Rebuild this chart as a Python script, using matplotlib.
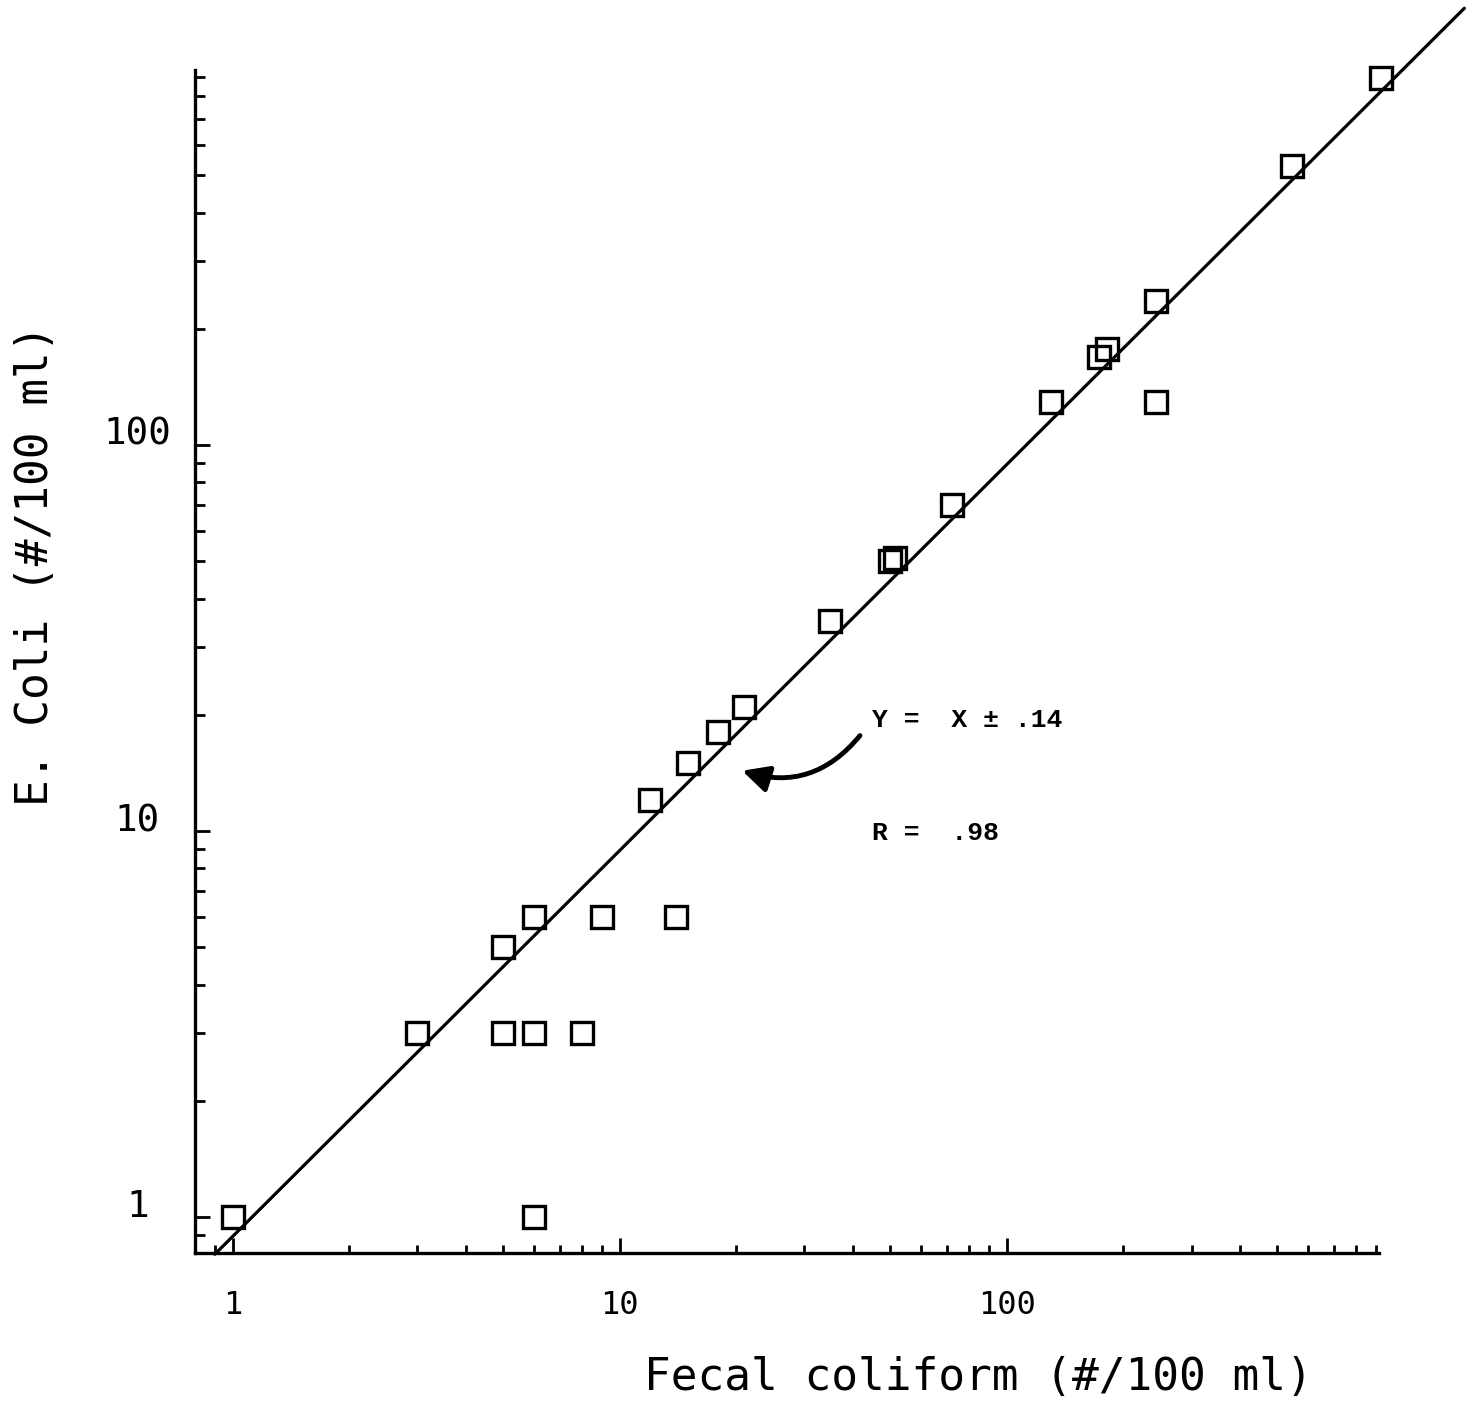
import matplotlib
matplotlib.use("Agg")
import matplotlib.pyplot as plt
import numpy as np
from matplotlib.ticker import LogLocator, NullFormatter, FixedFormatter, FixedLocator
from matplotlib.patches import FancyArrowPatch

# Paired counts per sample (#/100 ml)
fecal_coliform = [1, 6, 3, 5, 6, 8, 5, 6, 9, 14, 12, 15, 18, 21, 35,
                  50, 51.5, 72, 130, 173, 181, 243, 243, 545, 926]
e_coli = [1, 1, 3, 3, 3, 3, 5, 6, 6, 6, 12, 15, 18, 21, 35,
          50, 51, 70, 129, 169, 177, 236, 129, 528, 893]

# Regression line Y = b * X drawn across the plot
fit_slope = 0.89
fit_x = np.array([0.9, 1520.0])
fit_y = fit_slope * fit_x

major_ticks = [1, 10, 100]
major_labels = ["1", "10", "100"]

MONO = "DejaVu Sans Mono"
TYPE = "Liberation Mono"

fig = plt.figure(figsize=(14.76, 14.11), dpi=100)
W, H = 1476, 1411
left, right, bottom, top = 195, 1379, 1253, 70
ax = fig.add_axes([left / W, 1 - bottom / H, (right - left) / W, (bottom - top) / H])

ax.set_xscale("log")
ax.set_yscale("log")
ax.set_xlim(0.8, 915)
ax.set_ylim(0.807, 936)

ax.plot(fit_x, fit_y, color="black", lw=2.3, clip_on=False, zorder=2,
        solid_capstyle="round")
ax.plot(fecal_coliform, e_coli, linestyle="none", marker="s", markersize=16,
        markerfacecolor="none", markeredgecolor="black", markeredgewidth=2.4,
        clip_on=False, zorder=3)

for side in ("top", "right"):
    ax.spines[side].set_visible(False)
for side in ("left", "bottom"):
    ax.spines[side].set_linewidth(2.4)

for axis in (ax.xaxis, ax.yaxis):
    axis.set_major_locator(FixedLocator(major_ticks))
    axis.set_major_formatter(FixedFormatter(major_labels))
    axis.set_minor_locator(LogLocator(base=10, subs=np.arange(2, 10) / 1.0, numticks=20))
    axis.set_minor_formatter(NullFormatter())

ax.tick_params(axis="x", which="major", direction="in", length=11, width=2,
               pad=26.5, labelsize=23)
ax.tick_params(axis="x", which="minor", direction="in", length=6, width=2)
ax.tick_params(axis="y", which="major", direction="in", length=11, width=2,
               pad=41.5, labelsize=27)
ax.tick_params(axis="y", which="minor", direction="in", length=7.5, width=2)

for lab in ax.get_xticklabels():
    lab.set_fontfamily(MONO)
for lab in ax.get_yticklabels():
    lab.set_fontfamily(MONO)
    lab.set_horizontalalignment("center")
    lab.set_verticalalignment("baseline")

ax.set_xlabel("Fecal coliform (#/100 ml)", fontsize=32, family=MONO)
ax.xaxis.set_label_coords((978 - left) / (right - left), -(1378 - bottom) / (bottom - top))
ax.xaxis.label.set_verticalalignment("center")
ax.set_ylabel("E. Coli (#/100 ml)", fontsize=32, family=MONO)
ax.yaxis.set_label_coords((36 - left) / (right - left), (bottom - 565) / (bottom - top))
ax.yaxis.label.set_verticalalignment("center")

ax.text(44.8, 19.4, "Y =  X \u00b1 .14", fontsize=19, family=TYPE,
        ha="left", va="center", fontweight="bold")
ax.text(44.8, 9.88, "R =  .98", fontsize=19, family=TYPE,
        ha="left", va="center", fontweight="bold")

arrow = FancyArrowPatch((42.2, 17.9), (20.4, 14.4),
                        connectionstyle="arc3,rad=-0.35",
                        arrowstyle="-|>,head_length=0.8,head_width=0.4",
                        mutation_scale=20, lw=3.5, color="black", zorder=4,
                        capstyle="round")
ax.add_patch(arrow)

fig.savefig("out.png", dpi=100)
